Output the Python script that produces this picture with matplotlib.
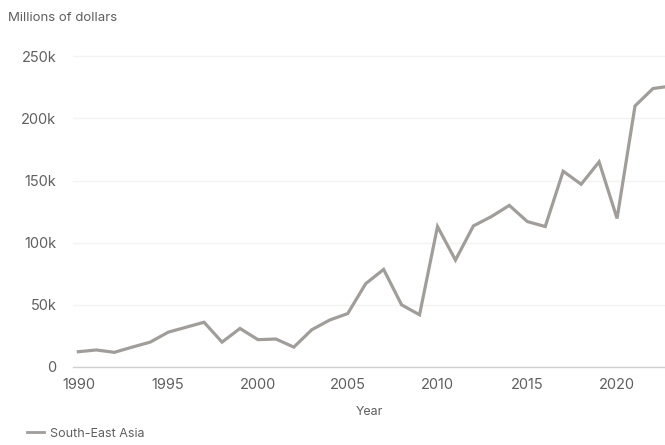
import matplotlib
matplotlib.use("Agg")
import matplotlib.pyplot as plt
from matplotlib.ticker import FuncFormatter

# ---- Data (millions of dollars) ----
years = list(range(1990, 2024))
south_east_asia = [
    12300, 13700, 11800, 16000, 20000, 28000, 32000, 36000, 20000, 31000,
    22000, 22500, 16000, 30000, 37800, 43000, 67000, 78500, 50000, 42000,
    113000, 86000, 113500, 121000, 130000, 117000, 113000, 157500, 147000, 165000,
    119500, 210000, 224000, 226000,
]
y_ticks = [0, 50000, 100000, 150000, 200000, 250000]
x_ticks = [1990, 1995, 2000, 2005, 2010, 2015, 2020]

LINE_COLOR = "#a19e99"
TEXT_COLOR = "#5f5f5f"

plt.rcParams["font.family"] = ["Inter", "DejaVu Sans"]

fig = plt.figure(figsize=(6.65, 4.45), dpi=100)
ax = fig.add_axes([73 / 665, 1 - 367 / 445, (665 - 73) / 665, (367 - 50) / 445])

ax.plot(years, south_east_asia, color=LINE_COLOR, linewidth=2.3,
        solid_joinstyle="miter", label="South-East Asia", clip_on=False)

ax.set_xlim(1989.7, 2022.67)
ax.set_ylim(0, 255000)
ax.set_yticks(y_ticks)
ax.set_xticks(x_ticks)
ax.yaxis.set_major_formatter(FuncFormatter(lambda v, _: "0" if v == 0 else f"{int(v / 1000)}k"))

ax.grid(axis="y", color="#f3f3f3", linewidth=1.0)
ax.set_axisbelow(True)
for side in ["top", "right", "left"]:
    ax.spines[side].set_visible(False)
ax.spines["bottom"].set_color("#d0d0d0")
ax.spines["bottom"].set_linewidth(1.0)

ax.tick_params(axis="both", length=0, labelsize=10.5, colors=TEXT_COLOR)
ax.tick_params(axis="y", pad=12)
ax.tick_params(axis="x", pad=8)

ax.set_xlabel("Year", fontsize=9, color=TEXT_COLOR, labelpad=10)
fig.text(8 / 665, 1 - 18 / 445, "Millions of dollars", fontsize=9.5,
         color=TEXT_COLOR, va="center", ha="left")

leg = fig.legend(loc="lower left", bbox_to_anchor=(16 / 665, -6 / 445), frameon=False,
                 fontsize=9, handlelength=1.3, handletextpad=0.5)
for t in leg.get_texts():
    t.set_color(TEXT_COLOR)
for h in leg.get_lines():
    h.set_linewidth(2.0)

fig.savefig("out.png", dpi=100)
